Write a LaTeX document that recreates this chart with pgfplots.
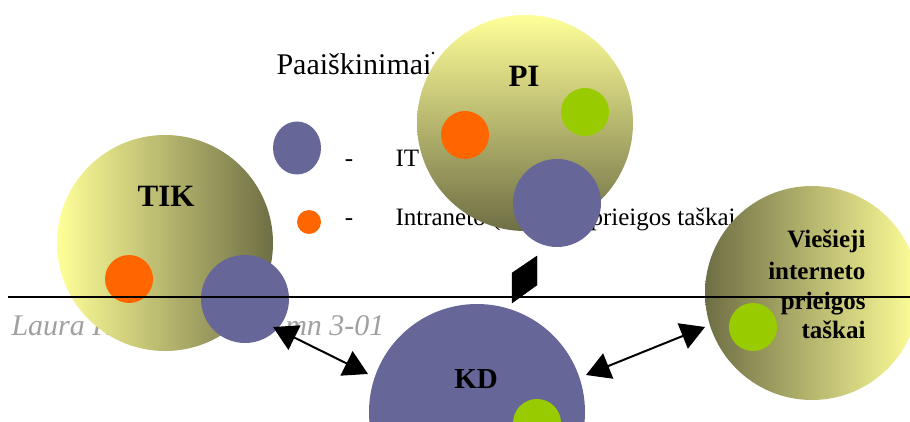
\documentclass[border=0pt]{standalone}
\usepackage{pgfplots}
\pgfplotsset{compat=1.18}
\usepackage{fontspec}
\setmainfont{Liberation Serif}
\usetikzlibrary{arrows.meta,shapes.geometric}

\definecolor{itblue}{HTML}{666699}
\definecolor{intraorange}{HTML}{FF6600}
\definecolor{pubgreen}{HTML}{99CC00}
\definecolor{olivelight}{HTML}{FFFF99}
\definecolor{olivedark}{HTML}{6E6E45}
\definecolor{signgray}{HTML}{A0A0A0}

\pgfplotsset{
  blob/.style={mark=none, draw=none, nodes near coords={},
    every node near coord/.append style={anchor=center, circle, inner sep=0pt,
      draw=none, minimum size=#1}},
  dblarrow/.style={line width=2bp, black,
    {Triangle[length=24bp,width=27bp]}-{Triangle[length=24bp,width=27bp]}},
}

\begin{document}
\begin{tikzpicture}
\begin{axis}[
    set layers,
    width=910bp, height=421bp, scale only axis,
    xmin=0, xmax=910, ymin=0, ymax=421, y dir=reverse,
    hide axis, clip=false,
  ]
% text that sits behind the circles
\begin{pgfonlayer}{pre main}
  \node[anchor=base west, font=\fontsize{30bp}{36bp}\selectfont] at (axis cs:273,75) {Paaiškinimai};
  \node[anchor=base, font=\fontsize{25bp}{30bp}\selectfont] at (axis cs:349,167) {-};
  \node[anchor=base, font=\fontsize{25bp}{30bp}\selectfont] at (axis cs:349,226) {-};
  \node[anchor=base west, font=\fontsize{25bp}{30bp}\selectfont] at (axis cs:392,167) {IT};
  \node[anchor=base west, font=\fontsize{25bp}{30bp}\selectfont] at (axis cs:392,226) {Intraneto (};
  \node[anchor=base west, font=\fontsize{25bp}{30bp}\selectfont] at (axis cs:587,226) {prieigos taškai};
  \node[anchor=base west, text=signgray, font=\fontsize{30bp}{36bp}\selectfont\itshape] at (axis cs:8,335) {Laura K};
  \node[anchor=base east, text=signgray, font=\fontsize{30bp}{36bp}\selectfont\itshape] at (axis cs:388,335) {mn 3-01};
\end{pgfonlayer}

% legend shapes
\addplot[mark=none, draw=none, nodes near coords={},
  every node near coord/.append style={anchor=center, ellipse, inner sep=0pt, draw=none,
    minimum width=48bp, minimum height=53bp, fill=itblue}] coordinates {(297,148)};
\addplot[blob=24bp, every node near coord/.append style={fill=intraorange}] coordinates {(309,222)};

% TIK
\addplot[blob=216bp, every node near coord/.append style={left color=olivelight, right color=olivedark}] coordinates {(165,243)};
\addplot[blob=48bp, every node near coord/.append style={fill=intraorange}] coordinates {(129,279)};
\addplot[blob=88bp, every node near coord/.append style={fill=itblue}] coordinates {(245,299)};

% PI
\addplot[blob=216bp, every node near coord/.append style={top color=olivelight, bottom color=olivedark}] coordinates {(525,123)};
\addplot[blob=48bp, every node near coord/.append style={fill=intraorange}] coordinates {(465,135)};
\addplot[blob=48bp, every node near coord/.append style={fill=pubgreen}] coordinates {(585,112)};
\addplot[blob=88bp, every node near coord/.append style={fill=itblue}] coordinates {(557,203)};

% KD
\addplot[blob=216bp, every node near coord/.append style={fill=itblue}] coordinates {(477,412)};
\addplot[blob=48bp, every node near coord/.append style={fill=pubgreen}] coordinates {(537,423)};

% Viesieji interneto prieigos taskai
\addplot[blob=214bp, every node near coord/.append style={left color=olivedark, right color=olivelight}] coordinates {(812,293)};
\addplot[blob=48bp, every node near coord/.append style={fill=pubgreen}] coordinates {(753,327)};

% lines and arrows in front
\addplot[on layer=axis foreground, black, line width=2bp, mark=none] coordinates {(8,297) (910,297)};
\addplot[on layer=axis foreground, dblarrow] coordinates {(273,327) (368,374)};
\addplot[on layer=axis foreground, dblarrow] coordinates {(586,375) (705,327)};
\addplot[on layer=axis foreground, fill=black, draw=black, mark=none]
  coordinates {(512,273) (537,256) (537,285) (512,303) (512,273)};
\addplot[on layer=axis foreground, only marks, mark=*, mark size=1.2bp, black] coordinates {(433,53)};

\begin{pgfonlayer}{axis foreground}
  \node[anchor=base, font=\fontsize{31bp}{36bp}\selectfont\bfseries] at (axis cs:166,207) {TIK};
  \node[anchor=base, font=\fontsize{31bp}{36bp}\selectfont\bfseries] at (axis cs:524,87) {PI};
  \node[anchor=base, font=\fontsize{29bp}{34bp}\selectfont\bfseries] at (axis cs:476,388) {KD};
  \node[anchor=base east, font=\fontsize{25bp}{30bp}\selectfont\bfseries] at (axis cs:869,248) {Viešieji};
  \node[anchor=base east, font=\fontsize{25bp}{30bp}\selectfont\bfseries] at (axis cs:869,279) {interneto};
  \node[anchor=base east, font=\fontsize{25bp}{30bp}\selectfont\bfseries] at (axis cs:869,309) {prieigos};
  \node[anchor=base east, font=\fontsize{25bp}{30bp}\selectfont\bfseries] at (axis cs:869,338) {taškai};
\end{pgfonlayer}
\end{axis}
\pgfresetboundingbox
\useasboundingbox (current axis.south west) rectangle (current axis.north east);
\end{tikzpicture}
\end{document}
